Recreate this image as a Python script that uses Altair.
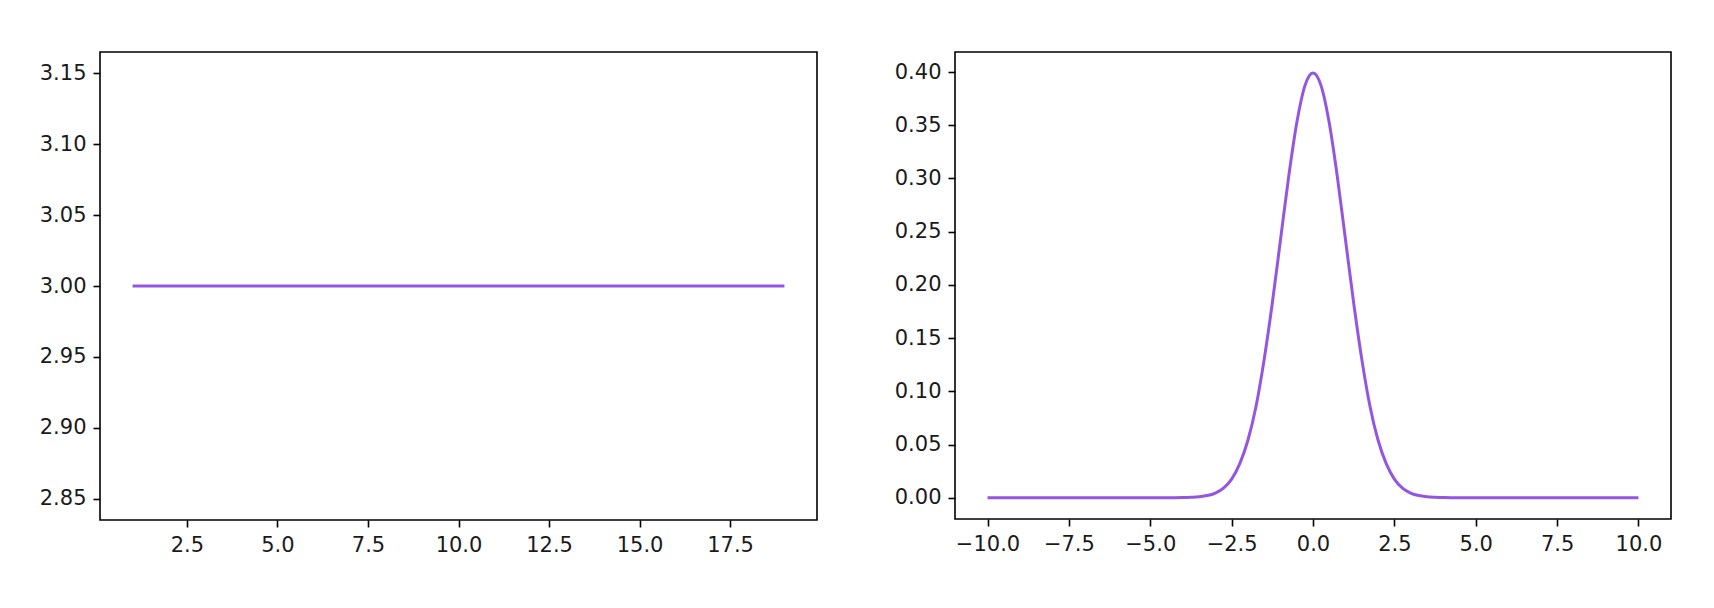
import altair as alt
import pandas as pd

# Left panel data
left_x = [1, 2, 3, 4, 5, 6, 7, 8, 9, 10, 11, 12, 13, 14, 15, 16, 17, 18, 19]
left_y = [3, 3, 3, 3, 3, 3, 3, 3, 3, 3, 3, 3, 3, 3, 3, 3, 3, 3, 3]

# Right panel data (bell curve)
right_x = [-10.0, -4.25, -4.0, -3.75, -3.5, -3.25, -3.0, -2.75, -2.5, -2.25, -2.0,
           -1.75, -1.5, -1.25, -1.0, -0.75, -0.5, -0.25, 0.0, 0.25, 0.5, 0.75,
           1.0, 1.25, 1.5, 1.75, 2.0, 2.25, 2.5, 2.75, 3.0, 3.25, 3.5, 3.75,
           4.0, 4.25, 10.0]
right_y = [0.0, 0.0, 0.0001, 0.0004, 0.0009, 0.002, 0.0044, 0.009, 0.0175, 0.032, 0.054,
           0.086, 0.130, 0.183, 0.242, 0.301, 0.352, 0.387, 0.399, 0.387, 0.352, 0.301,
           0.242, 0.183, 0.130, 0.086, 0.054, 0.032, 0.0175, 0.009, 0.0044, 0.002, 0.0009, 0.0004,
           0.0001, 0.0, 0.0]

left_xticks = [2.5, 5.0, 7.5, 10.0, 12.5, 15.0, 17.5]
left_yticks = [2.85, 2.90, 2.95, 3.00, 3.05, 3.10, 3.15]
right_xticks = [-10.0, -7.5, -5.0, -2.5, 0.0, 2.5, 5.0, 7.5, 10.0]
right_yticks = [0.00, 0.05, 0.10, 0.15, 0.20, 0.25, 0.30, 0.35, 0.40]

LINE_COLOR = "#9455e0"

df_left = pd.DataFrame({"x": left_x, "y": left_y})
df_right = pd.DataFrame({"x": right_x, "y": right_y})

left = alt.Chart(df_left).mark_line(color=LINE_COLOR, strokeWidth=3).encode(
    x=alt.X("x:Q", title=None,
            scale=alt.Scale(domain=[0.1, 19.9], nice=False, zero=False),
            axis=alt.Axis(values=left_xticks, format=".1f")),
    y=alt.Y("y:Q", title=None,
            scale=alt.Scale(domain=[2.835, 3.165], nice=False, zero=False),
            axis=alt.Axis(values=left_yticks, format=".2f")),
).properties(width=717, height=468)

right = alt.Chart(df_right).mark_line(color=LINE_COLOR, strokeWidth=3,
                                      interpolate="monotone").encode(
    x=alt.X("x:Q", title=None,
            scale=alt.Scale(domain=[-11, 11], nice=False, zero=False),
            axis=alt.Axis(values=right_xticks, format=".1f")),
    y=alt.Y("y:Q", title=None,
            scale=alt.Scale(domain=[-0.0200, 0.4188], nice=False, zero=False),
            axis=alt.Axis(values=right_yticks, format=".2f")),
).properties(width=716, height=467)

chart = alt.hconcat(left, right, spacing=75).properties(
    padding={"left": 30, "top": 43, "right": 5, "bottom": 5}
).configure_view(
    stroke="black", strokeWidth=1.6
).configure_axis(
    domain=False, grid=False,
    tickColor="black", tickWidth=1.6, tickSize=7,
    labelPadding=7, labelFont="DejaVu Sans", labelFontSize=21,
    labelColor="#1a1a1a", labelFlush=False, labelOverlap=False, labelBound=False,
)

chart.save("out.html", embed_options={"renderer": "svg", "actions": False})
